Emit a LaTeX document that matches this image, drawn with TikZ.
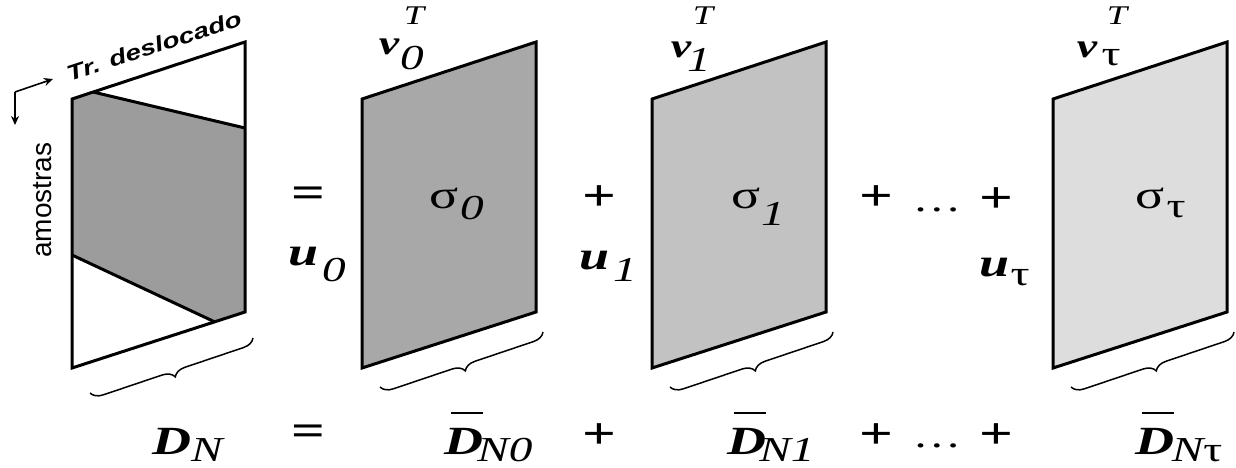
\documentclass[tikz,border=0pt]{standalone}
\usepackage{fontspec}
\setmainfont{Liberation Serif}[FakeStretch=1.35]
\newfontfamily\sansf{Liberation Sans}
\newfontfamily\sanswide{Liberation Sans}[FakeStretch=1.3]
\usetikzlibrary{decorations.pathreplacing,arrows.meta,calc}
\tikzset{
 panel/.style={draw=black, line width=3pt, line join=miter},
 mainsym/.style={inner sep=0pt, font=\fontsize{40}{42}\selectfont\bfseries\itshape},
 vsym/.style={inner sep=0pt, font=\fontsize{34}{36}\selectfont\bfseries\itshape},
 subsym/.style={inner sep=0pt, font=\fontsize{35}{37}\selectfont\itshape},
 greeksub/.style={inner sep=0pt, font=\fontsize{35}{37}\selectfont},
 supsym/.style={inner sep=0pt, font=\fontsize{27}{29}\selectfont\itshape},
 sigsym/.style={inner sep=0pt, font=\fontsize{40}{42}\selectfont},
 opsym/.style={inner sep=0pt, font=\fontsize{44}{46}\selectfont\bfseries},
 dotsym/.style={inner sep=0pt, font=\fontsize{36}{38}\selectfont},
 bracestyle/.style={decorate, decoration={brace, amplitude=12pt}, line width=1.5pt},
 barline/.style={line width=2pt},
 axisarrow/.style={line width=1.6pt, -{Stealth[length=9pt,width=8pt]}},
}
\begin{document}
\begin{tikzpicture}[x=1pt,y=-1pt]
\useasboundingbox (0,0) rectangle (1236,467);

% ---------- left data panel ----------
\coordinate (LTL) at (72,99);
\coordinate (LTR) at (245,42);
\coordinate (LBR) at (245,312);
\coordinate (LBL) at (72,368);
\coordinate (GA) at (93,92);
\coordinate (GB) at (245,128);
\coordinate (GC) at (215,322);
\coordinate (GD) at (72,255);
\fill[white] (LTL) -- (LTR) -- (LBR) -- (LBL) -- cycle;
\fill[gray!78] (LTL) -- (GA) -- (GB) -- (LBR) -- (GC) -- (GD) -- cycle;
\draw[panel] (GA) -- (GB);
\draw[panel] (GD) -- (GC);
\draw[panel] (LTL) -- (LTR) -- (LBR) -- (LBL) -- cycle;
\draw[bracestyle] (253,338) -- (90,393);

\node[inner sep=0pt, rotate=90, font=\sansf\fontsize{28}{30}\selectfont] (amostras) at (43,200) {amostras};
\node[inner sep=0pt, rotate=18, font=\sanswide\fontsize{21.5}{24}\selectfont\bfseries\itshape] (trd) at (154,46) {Tr. deslocado};
\coordinate (ax0) at (15,92);
\coordinate (axR) at (53,79);
\coordinate (axD) at (15,125);
\draw[axisarrow] (ax0) -- (axR);
\draw[axisarrow] (ax0) -- (axD);

% ---------- panels ----------
\foreach \L/\nm/\col in {362/p0/gray!68, 652/p1/gray!48, 1053/pt/gray!27}{
  \coordinate (\nm TL) at (\L,99);
  \coordinate (\nm TR) at (\L+174,42);
  \coordinate (\nm BR) at (\L+174,312);
  \coordinate (\nm BL) at (\L,368);
  \filldraw[panel, fill=\col] (\nm TL) -- (\nm TR) -- (\nm BR) -- (\nm BL) -- cycle;
  \draw[bracestyle] (\L+181,332) -- (\L+18,387);
}

% ---------- panel labels ----------
\node[sigsym] (s0) at (444,198) {σ};
\node[subsym] (s0i) at (472,208) {0};
\node[sigsym] (s1) at (746,198) {σ};
\node[subsym] (s1i) at (773,214) {1};
\node[sigsym] (st) at (1150,198) {σ};
\node[greeksub] (sti) at (1176,210) {τ};

\node[mainsym] (u0) at (304,257) {u};
\node[subsym] (u0i) at (334,270) {0};
\node[mainsym] (u1) at (595,261) {u};
\node[subsym] (u1i) at (625,270) {1};
\node[mainsym] (ut) at (995,268) {u};
\node[greeksub] (uti) at (1020,278) {τ};

\node[vsym] (v0) at (389,47) {v};
\node[subsym] (v0i) at (412,58) {0};
\node[supsym] (v0T) at (414,16) {T};
\node[vsym] (v1) at (681,50) {v};
\node[subsym] (v1i) at (699,60) {1};
\node[supsym] (v1T) at (703,16) {T};
\node[vsym] (vt) at (1087,50) {v};
\node[greeksub] (vti) at (1111,58) {τ};
\node[supsym] (vtT) at (1117,16) {T};

% ---------- operators (top row) ----------
\node[opsym] (eq1) at (308,197) {=};
\node[opsym] (pl1) at (599,198) {+};
\node[opsym] (pl2) at (876,198) {+};
\node[dotsym] (dt1) at (937,210) {…};
\node[opsym] (pl3) at (996,200) {+};

% ---------- bottom equation ----------
\node[mainsym] (DN) at (172,441) {D};
\node[subsym] (DNi) at (207,450) {N};
\node[opsym] (eq2) at (308,435) {=};
\node[mainsym] (D0) at (464,441) {D};
\node[subsym] (D0i) at (505,450) {N0};
\node[opsym] (pl4) at (599,436) {+};
\node[mainsym] (D1) at (747,441) {D};
\node[subsym] (D1i) at (787,450) {N1};
\node[opsym] (pl5) at (876,436) {+};
\node[dotsym] (dt2) at (937,446) {…};
\node[opsym] (pl6) at (996,436) {+};
\node[mainsym] (Dt) at (1155,441) {D};
\node[subsym] (Dti) at (1197,450) {N\upshape τ};

\foreach \d in {D0,D1,Dt}{
  \draw[barline] ($(\d.north)+(-13,-15)$) -- ($(\d.north)+(19,-15)$);
}
\end{tikzpicture}
\end{document}
